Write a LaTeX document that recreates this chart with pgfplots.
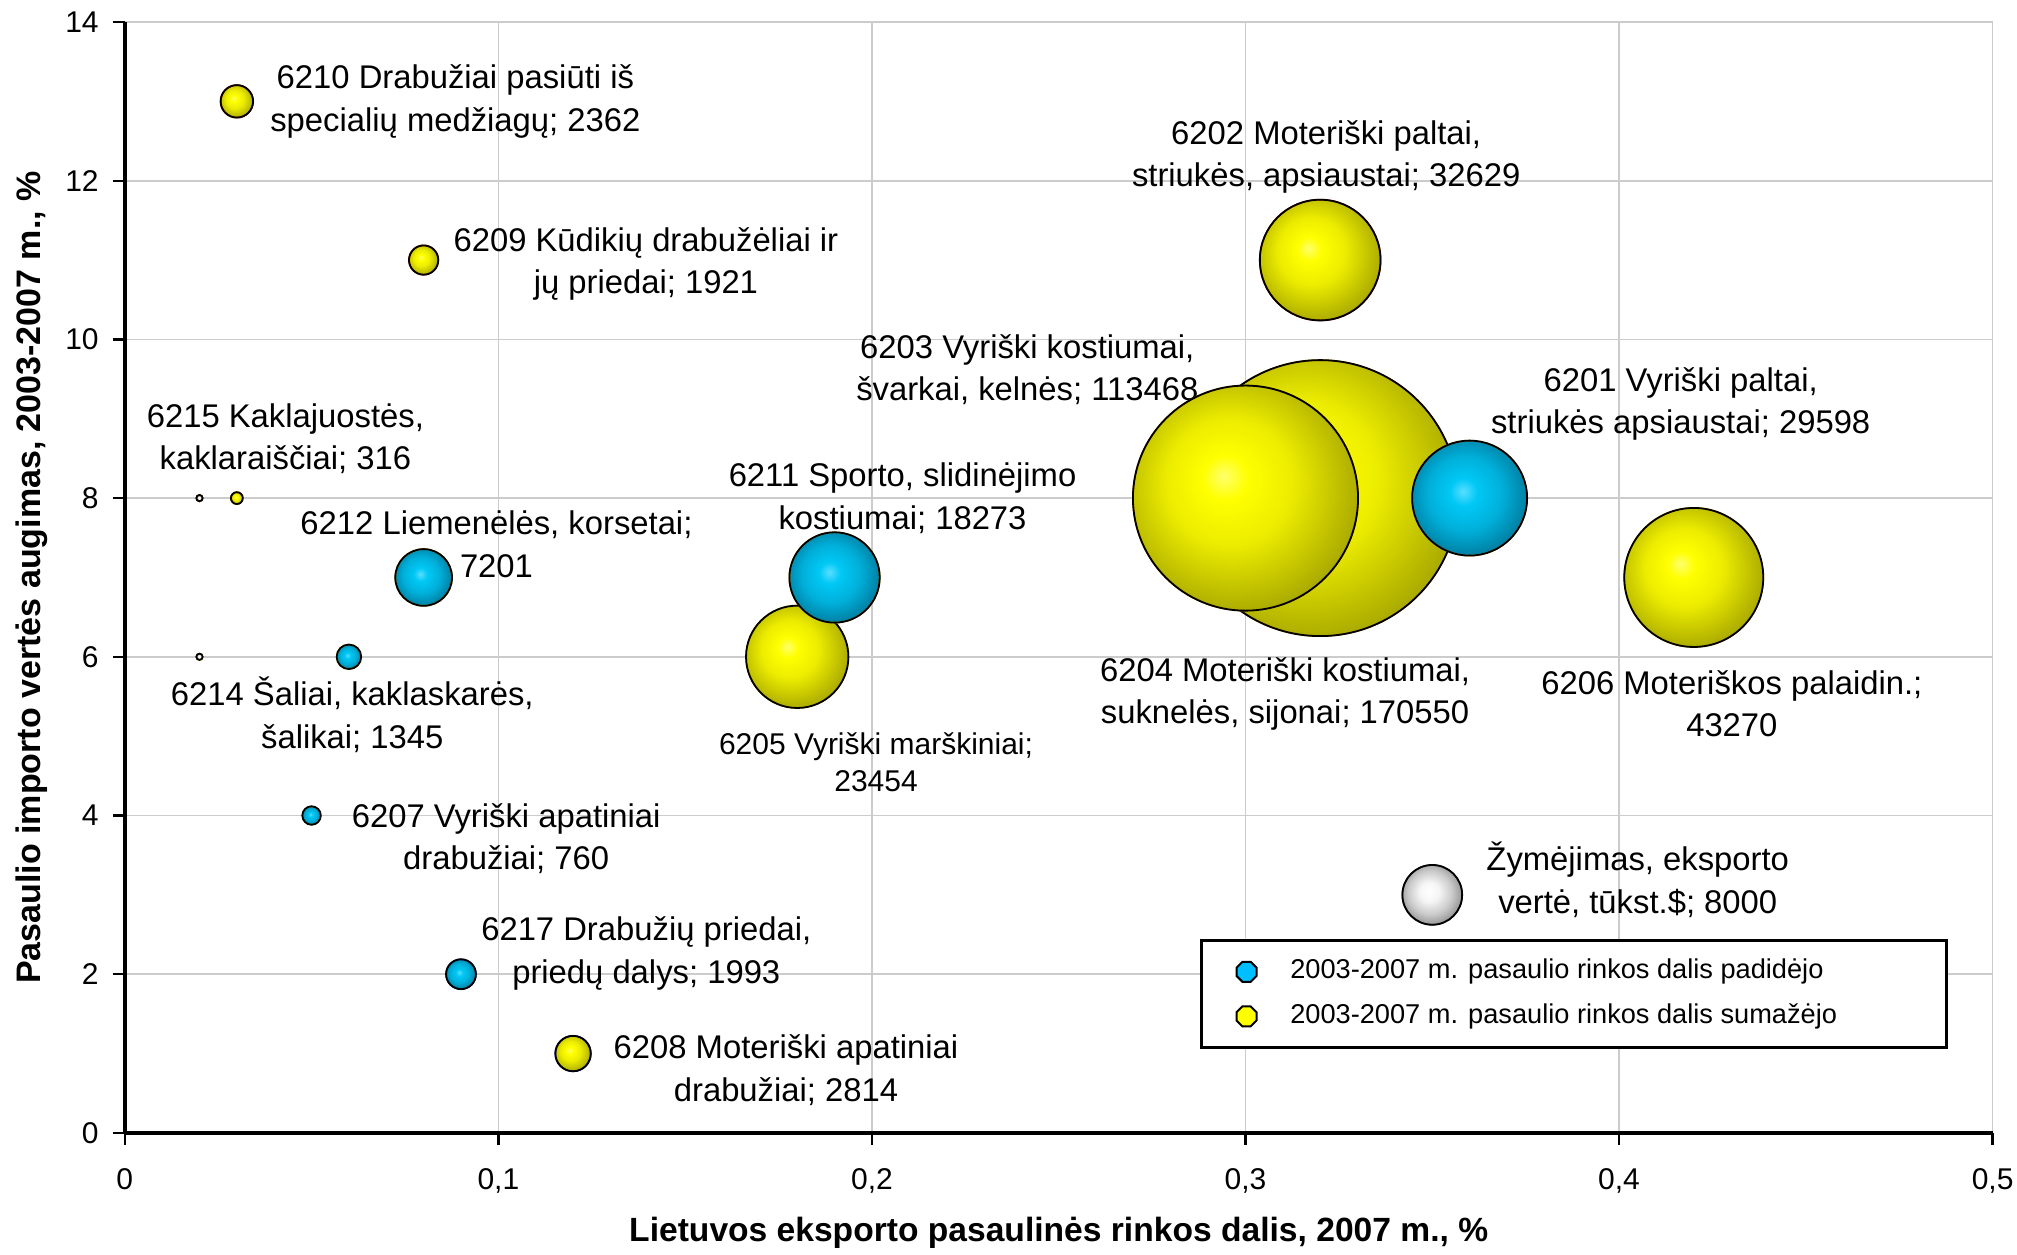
\documentclass[border=0pt]{standalone}
\usepackage{pgfplots}
\pgfplotsset{compat=1.18}
\usepackage{pgfplotstable}
\usepackage{fontspec}
\setmainfont{Liberation Sans}

\definecolor{ylo}{RGB}{255,255,0}
\definecolor{yhi}{RGB}{255,255,110}
\definecolor{ydk}{RGB}{160,160,0}
\definecolor{blo}{RGB}{0,200,245}
\definecolor{bhi}{RGB}{90,222,255}
\definecolor{bdk}{RGB}{0,120,155}
\definecolor{whi}{RGB}{255,255,255}
\definecolor{wdk}{RGB}{140,140,140}
\definecolor{legb}{RGB}{0,191,255}

\pgfdeclareradialshading{bubY}{\pgfpoint{-5bp}{5bp}}{color(0bp)=(yhi); color(5bp)=(ylo); color(14bp)=(ylo!80!ydk); color(30bp)=(ydk); color(50bp)=(ydk)}
\pgfdeclareradialshading{bubB}{\pgfpoint{-3bp}{3bp}}{color(0bp)=(bhi); color(6bp)=(blo); color(16bp)=(blo!70!bdk); color(28bp)=(bdk); color(50bp)=(bdk)}
\pgfdeclareradialshading{bubW}{\pgfpoint{-3bp}{3bp}}{color(0bp)=(whi); color(8bp)=(whi!92!wdk); color(18bp)=(whi!55!wdk); color(28bp)=(wdk); color(50bp)=(wdk)}

\pgfdeclareplotmark{bubY}{\shade[shading=bubY] (0,0) circle (\pgfplotmarksize); \draw[black, line width=0.45pt] (0,0) circle (\pgfplotmarksize);}
\pgfdeclareplotmark{bubB}{\shade[shading=bubB] (0,0) circle (\pgfplotmarksize); \draw[black, line width=0.45pt] (0,0) circle (\pgfplotmarksize);}
\pgfdeclareplotmark{bubW}{\shade[shading=bubW] (0,0) circle (\pgfplotmarksize); \draw[black, line width=0.45pt] (0,0) circle (\pgfplotmarksize);}
\pgfdeclareplotmark{oct}{%
  \pgfpathmoveto{\pgfpointpolar{22.5}{\pgfplotmarksize}}%
  \pgfpathlineto{\pgfpointpolar{67.5}{\pgfplotmarksize}}%
  \pgfpathlineto{\pgfpointpolar{112.5}{\pgfplotmarksize}}%
  \pgfpathlineto{\pgfpointpolar{157.5}{\pgfplotmarksize}}%
  \pgfpathlineto{\pgfpointpolar{202.5}{\pgfplotmarksize}}%
  \pgfpathlineto{\pgfpointpolar{247.5}{\pgfplotmarksize}}%
  \pgfpathlineto{\pgfpointpolar{292.5}{\pgfplotmarksize}}%
  \pgfpathlineto{\pgfpointpolar{337.5}{\pgfplotmarksize}}%
  \pgfpathclose\pgfusepathqfillstroke}

\pgfplotsset{octleg/.style={legend image code/.code={\path[draw=none] (-8.45pt,0pt) (8.95pt,0pt); \draw[##1] plot coordinates {(0pt,0pt)};}}}

% export value in thousands of $ (label value / 1000)
\pgfplotstableread{
x y v
0.32 8 170.550
0.30 8 113.468
0.42 7 43.270
0.32 11 32.629
0.18 6 23.454
0.12 1 2.814
0.03 13 2.362
0.08 11 1.921
0.03 8 0.316
}\yel
\pgfplotstableread{
x y v
0.36 8 29.598
0.19 7 18.273
0.08 7 7.201
0.09 2 1.993
0.06 6 1.345
0.05 4 0.760
}\blu
\pgfplotstableread{
x y v
0.35 3 8.000
0.02 8 0.090
0.02 6 0.090
}\wht

\tikzset{lbl/.style={align=center, inner sep=0pt, font=\fontsize{8.2}{10.6}\selectfont}}

\begin{document}
\begin{tikzpicture}
\begin{axis}[
  name=ax, scale only axis, width=467pt, height=277.75pt,
  xmin=0, xmax=0.5, ymin=0, ymax=14,
  xtick={0,0.1,0.2,0.3,0.4,0.5}, ytick={0,2,...,14},
  axis lines=left, axis line style={-, black, line width=1pt},
  grid=major, major grid style={gray!40, line width=0.4pt},
  tick align=outside, major tick length=3pt, tick style={black, line width=0.6pt},
  ticklabel style={font=\fontsize{7.5}{9}\selectfont},
  /pgf/number format/assume math mode=true,
  xticklabel style={/pgf/number format/use comma, /pgf/number format/fixed, yshift=-2.5pt},
  xlabel={Lietuvos eksporto pasaulinės rinkos dalis, 2007 m., \%},
  ylabel={Pasaulio importo vertės augimas, 2003-2007 m., \%},
  xlabel style={at={(axis description cs:0.5,-0.0897)}, anchor=center, font=\bfseries\fontsize{8.4}{10}\selectfont},
  ylabel style={at={(axis description cs:-0.050,0.5)}, anchor=center, font=\bfseries\fontsize{8.5}{10}\selectfont},
  legend style={at={(rel axis cs:0.5756,0.1746)}, anchor=north west, draw=black, line width=0.8pt,
    font=\fontsize{6.8}{8}\selectfont, row sep=0.7pt, inner xsep=2.8pt, inner ysep=2.6pt},
  legend cell align=left,
  visualization depends on={34.5*sqrt(\thisrow{v}/170.55) \as \rr},
  clip=false
]
\addplot[scatter, only marks, forget plot, mark=bubY,
  scatter/@pre marker code/.append style={/tikz/mark size=\rr}] table {\yel};
\addplot[scatter, only marks, forget plot, mark=bubB,
  scatter/@pre marker code/.append style={/tikz/mark size=\rr}] table {\blu};
\addplot[scatter, only marks, forget plot, mark=bubW,
  scatter/@pre marker code/.append style={/tikz/mark size=\rr}] table {\wht};

\addlegendimage{only marks, mark=oct, mark size=2.7pt, mark options={draw=black, fill=legb, line width=0.5pt}, octleg}
\addlegendentry{\makebox[159.3pt][l]{2003-2007 m. pasaulio rinkos dalis padidėjo}}
\addlegendimage{only marks, mark=oct, mark size=2.7pt, mark options={draw=black, fill=ylo, line width=0.5pt}, octleg}
\addlegendentry{\makebox[159.3pt][l]{2003-2007 m. pasaulio rinkos dalis sumažėjo}}

\node[lbl] at (axis cs:0.0885,13.0) {6210 Drabužiai pasiūti iš\\specialių medžiagų; 2362};
\node[lbl] at (axis cs:0.1395,10.95) {6209 Kūdikių drabužėliai ir\\jų priedai; 1921};
\node[lbl] at (axis cs:0.043,8.75) {6215 Kaklajuostės,\\kaklaraiščiai; 316};
\node[lbl] at (axis cs:0.0995,7.42) {6212 Liemenėlės, korsetai;\\7201};
\node[lbl] at (axis cs:0.0609,5.27) {6214 Šaliai, kaklaskarės,\\šalikai; 1345};
\node[lbl] at (axis cs:0.1021,3.71) {6207 Vyriški apatiniai\\drabužiai; 760};
\node[lbl] at (axis cs:0.1396,2.26) {6217 Drabužių priedai,\\priedų dalys; 1993};
\node[lbl] at (axis cs:0.177,0.79) {6208 Moteriški apatiniai\\drabužiai; 2814};
\node[lbl] at (axis cs:0.2082,8.0) {6211 Sporto, slidinėjimo\\kostiumai; 18273};
\node[lbl, font=\fontsize{7.5}{9.3}\selectfont] at (axis cs:0.2011,4.675) {6205 Vyriški marškiniai;\\23454};
\node[lbl] at (axis cs:0.3216,12.30) {6202 Moteriški paltai,\\striukės, apsiaustai; 32629};
\node[lbl] at (axis cs:0.2416,9.62) {6203 Vyriški kostiumai,\\švarkai, kelnės; 113468};
\node[lbl] at (axis cs:0.4165,9.19) {6201 Vyriški paltai,\\striukės apsiaustai; 29598};
\node[lbl] at (axis cs:0.3106,5.53) {6204 Moteriški kostiumai,\\suknelės, sijonai; 170550};
\node[lbl] at (axis cs:0.4302,5.41) {6206 Moteriškos palaidin.;\\43270};
\node[lbl] at (axis cs:0.405,3.19) {Žymėjimas, eksporto\\vertė, tūkst.\$; 8000};
\end{axis}
\pgfresetboundingbox
\path ([shift={(-31.2pt,-30.5pt)}]ax.south west) rectangle ([shift={(6.1pt,5.5pt)}]ax.north east);
\end{tikzpicture}
\end{document}
